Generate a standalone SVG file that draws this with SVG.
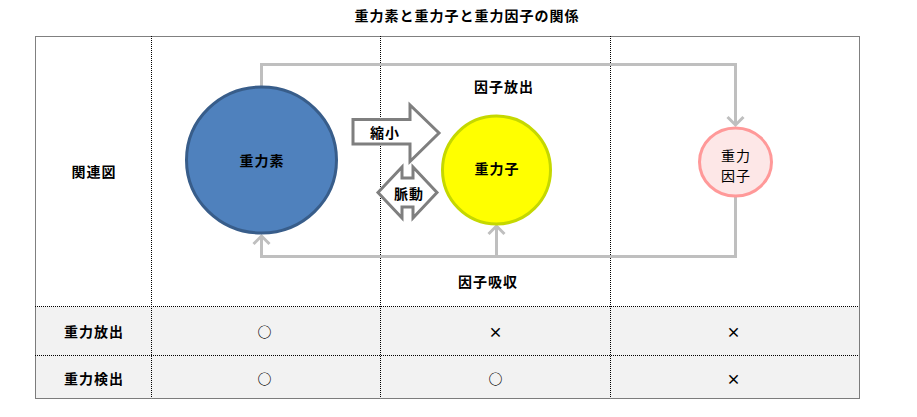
<svg xmlns="http://www.w3.org/2000/svg" width="917" height="417" viewBox="0 0 917 417">
<defs>
<style>
text{font-family:"Noto Sans CJK JP","Noto Sans CJK SC",sans-serif;font-size:14px;fill:#000;text-anchor:middle;dominant-baseline:central;letter-spacing:1px}
.b{font-weight:bold}
.grid{stroke:#000;stroke-width:1;stroke-dasharray:1,1;fill:none}
.conn{stroke:#bfbfbf;stroke-width:3;fill:none}
.blk{stroke:#7f7f7f;stroke-width:3;fill:#fff;stroke-linejoin:miter}
</style>
<marker id="ah" markerUnits="userSpaceOnUse" markerWidth="20" markerHeight="20" refX="10" refY="10" orient="auto">
<path d="M2,2 L10,10 L2,18" stroke="#bfbfbf" stroke-width="3" fill="none"/>
</marker>
</defs>
<rect width="917" height="417" fill="#fff"/>
<text class="b" x="467" y="15">重力素と重力子と重力因子の関係</text>
<g id="table">
<rect x="35.5" y="306.5" width="824" height="92" fill="#f2f2f2"/>
<rect class="grid" x="35.5" y="36.5" width="824" height="362"/>
<line class="grid" x1="151.5" y1="36" x2="151.5" y2="398"/>
<line class="grid" x1="380.5" y1="36" x2="380.5" y2="398"/>
<line class="grid" x1="610.5" y1="36" x2="610.5" y2="398"/>
<line class="grid" x1="35" y1="306.5" x2="859" y2="306.5"/>
<line class="grid" x1="35" y1="355.5" x2="859" y2="355.5"/>
<text class="b" x="94" y="171">関連図</text>
<text class="b" x="94" y="331">重力放出</text>
<text class="b" x="94" y="378">重力検出</text>
<text class="b" x="265" y="331">○</text>
<text class="b" x="496" y="331">×</text>
<text class="b" x="734" y="331">×</text>
<text class="b" x="265" y="378">○</text>
<text class="b" x="496" y="378">○</text>
<text class="b" x="734" y="378">×</text>
</g>
<g id="connectors">
<polyline class="conn" points="261.5,88 261.5,64.5 735.5,64.5 735.5,125" marker-end="url(#ah)"/>
<polyline class="conn" points="735.5,197 735.5,256.5 261.5,256.5 261.5,236" marker-end="url(#ah)"/>
<polyline class="conn" points="496.5,256.5 496.5,226" marker-end="url(#ah)"/>
<text class="b" x="504" y="86">因子放出</text>
<text class="b" x="488" y="281">因子吸収</text>
</g>
<g id="gravitron-element">
<ellipse cx="261.5" cy="160" rx="75" ry="73" fill="#4f81bd" stroke="#385d8a" stroke-width="3"/>
<text class="b" x="262" y="160">重力素</text>
</g>
<g id="shrink">
<polygon class="blk" points="353,119.5 410,119.5 410,105 439,133 410,161.5 410,144 353,144"/>
<text class="b" x="385" y="132">縮小</text>
</g>
<g id="pulse">
<polygon class="blk" points="378,192.5 402,167 402,178 413,178 413,167 437,192.5 413,218 413,207 402,207 402,218"/>
<text class="b" x="409" y="193">脈動</text>
</g>
<g id="graviton">
<ellipse cx="496.5" cy="170" rx="54" ry="54" fill="#ffff00" stroke="#c5d800" stroke-width="3"/>
<text class="b" x="497" y="168">重力子</text>
</g>
<g id="gravity-factor">
<ellipse cx="735.5" cy="162" rx="36" ry="34" fill="#fde7e7" stroke="#ff9999" stroke-width="3"/>
<text x="736" y="155">重力</text>
<text x="736" y="175">因子</text>
</g>
</svg>
